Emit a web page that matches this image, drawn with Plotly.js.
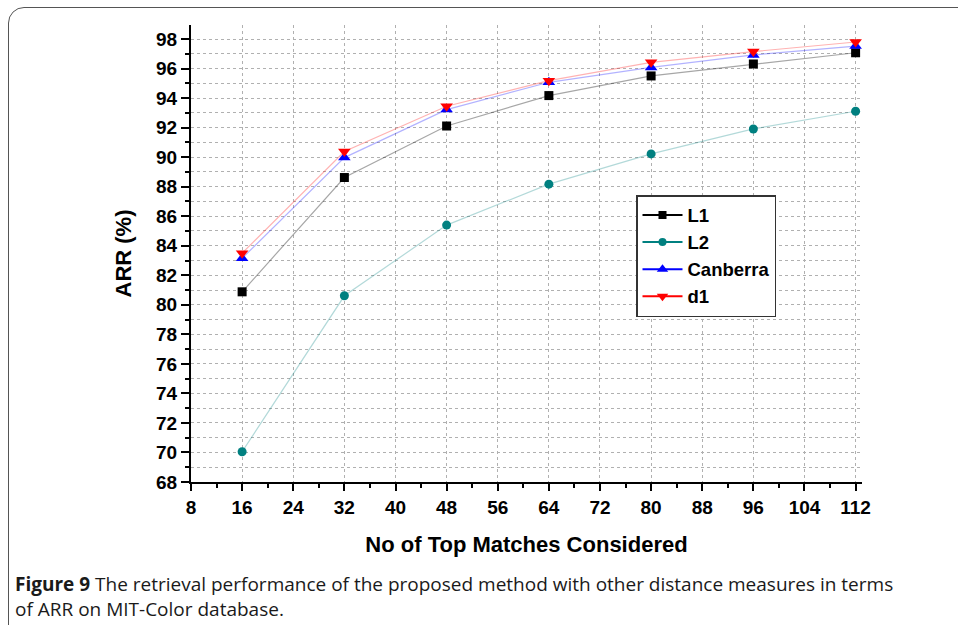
<!DOCTYPE html>
<html>
<head>
<meta charset="utf-8">
<script src="https://cdn.plot.ly/plotly-3.0.1.min.js"></script>
<style>
  html, body { margin: 0; padding: 0; background: #fff; overflow: hidden; }
  #frame { position: absolute; left: 8px; top: 7px; width: 1000px; height: 640px;
           border: 1.5px solid #555; border-radius: 16px; box-sizing: border-box; }
  #chart { position: absolute; left: 0; top: 0; width: 958px; height: 625px; }
</style>
</head>
<body>
<div id="frame"></div>
<div id="chart"></div>
<script>
// Data
const topMatches = [16, 32, 48, 64, 80, 96, 112];
const arrL1       = [80.88, 88.62, 92.11, 94.17, 95.50, 96.31, 97.07];
const arrL2       = [70.05, 80.61, 85.40, 88.17, 90.22, 91.91, 93.11];
const arrCanberra = [83.15, 89.97, 93.22, 95.07, 96.08, 96.92, 97.52];
const arrD1       = [83.50, 90.38, 93.45, 95.18, 96.42, 97.15, 97.80];

const seriesNames = ['L1', 'L2', 'Canberra', 'd1'];
const seriesData = [arrL1, arrL2, arrCanberra, arrD1];
const fullColors = ['#000000', '#008080', '#0000ff', '#ff0000'];
const fadedColors = ['rgba(0,0,0,0.35)', 'rgba(0,128,128,0.3)', 'rgba(0,0,255,0.3)', 'rgba(255,0,0,0.3)'];
const symbols = ['square', 'circle', 'triangle-up', 'triangle-down'];
const sizes = [9, 9, 11, 11];

const xTicks = [8, 16, 24, 32, 40, 48, 56, 64, 72, 80, 88, 96, 104, 112];

const captionLines = [
  '<b>Figure 9</b> The retrieval performance of the proposed method with other distance measures in terms',
  'of ARR on MIT-Color database.'
];

const traces = [];
seriesData.forEach((ys, i) => {
  traces.push({
    x: topMatches, y: ys, type: 'scatter', mode: 'lines+markers',
    name: seriesNames[i], showlegend: false,
    line: { color: fadedColors[i], width: 1.2 },
    marker: { symbol: symbols[i], size: sizes[i], color: fullColors[i] }
  });
});
// legend entries (full-colour lines as in the reference legend)
seriesData.forEach((ys, i) => {
  traces.push({
    x: [null], y: [null], type: 'scatter', mode: 'lines+markers',
    name: seriesNames[i], showlegend: true,
    line: { color: fullColors[i], width: 2 },
    marker: { symbol: symbols[i], size: sizes[i] - 1, color: fullColors[i] }
  });
});

const W = 958, H = 625;
const L = 191, R = 96, T = 25, B = 143;
const pw = W - L - R, ph = H - T - B;
const px = v => (v - L) / pw;
const py = v => (H - B - v) / ph;

const FAM = 'Liberation Sans, Arial, sans-serif';
const tickFont = { family: FAM, size: 19, color: '#000', weight: 'bold' };

const layout = {
  width: W, height: H,
  margin: { l: L, r: R, t: T, b: B },
  paper_bgcolor: 'rgba(0,0,0,0)', plot_bgcolor: 'rgba(0,0,0,0)',
  showlegend: true,
  legend: {
    x: px(636), y: py(195), xanchor: 'left', yanchor: 'top',
    bgcolor: '#fff', bordercolor: '#333', borderwidth: 1.5,
    font: { family: FAM, size: 18.5, color: '#000', weight: 'bold' },
    tracegroupgap: 0, itemwidth: 40
  },
  xaxis: {
    range: [8, 113], tickvals: xTicks, ticktext: xTicks.map(String),
    ticks: 'outside', ticklen: 7, tickwidth: 2, tickcolor: '#000',
    showline: true, linewidth: 2, linecolor: '#000',
    showgrid: true, gridcolor: '#b0b0b0', gridwidth: 1, griddash: 'dot',
    minor: { dtick: 4, tick0: 8, ticks: 'outside', ticklen: 4, tickwidth: 2, tickcolor: '#000', showgrid: false },
    zeroline: false, tickfont: tickFont,
    title: { text: 'No of Top Matches Considered', standoff: 20,
             font: { family: FAM, size: 22, color: '#000', weight: 'bold' } }
  },
  yaxis: {
    range: [68, 98.95], tick0: 68, dtick: 2,
    ticks: 'outside', ticklen: 8, tickwidth: 2, tickcolor: '#000',
    showline: true, linewidth: 2, linecolor: '#000',
    showgrid: true, gridcolor: '#b0b0b0', gridwidth: 1, griddash: 'dot',
    minor: { dtick: 1, tick0: 68, ticks: 'outside', ticklen: 4, tickwidth: 2, tickcolor: '#000',
             showgrid: true, gridcolor: '#b0b0b0', gridwidth: 1, griddash: 'dot' },
    zeroline: false, tickfont: tickFont,
    title: { text: 'ARR (%)', standoff: 18,
             font: { family: FAM, size: 22, color: '#000', weight: 'bold' } }
  },
  annotations: [
    { xref: 'paper', yref: 'paper', x: px(13), y: py(596), xanchor: 'left', yanchor: 'middle',
      showarrow: false, align: 'left',
      text: captionLines.join('<br>'),
      font: { family: 'Open Sans, sans-serif', size: 19, color: '#1a1a1a' } }
  ]
};

Plotly.newPlot('chart', traces, layout, { displayModeBar: false, staticPlot: true });
</script>
</body>
</html>
